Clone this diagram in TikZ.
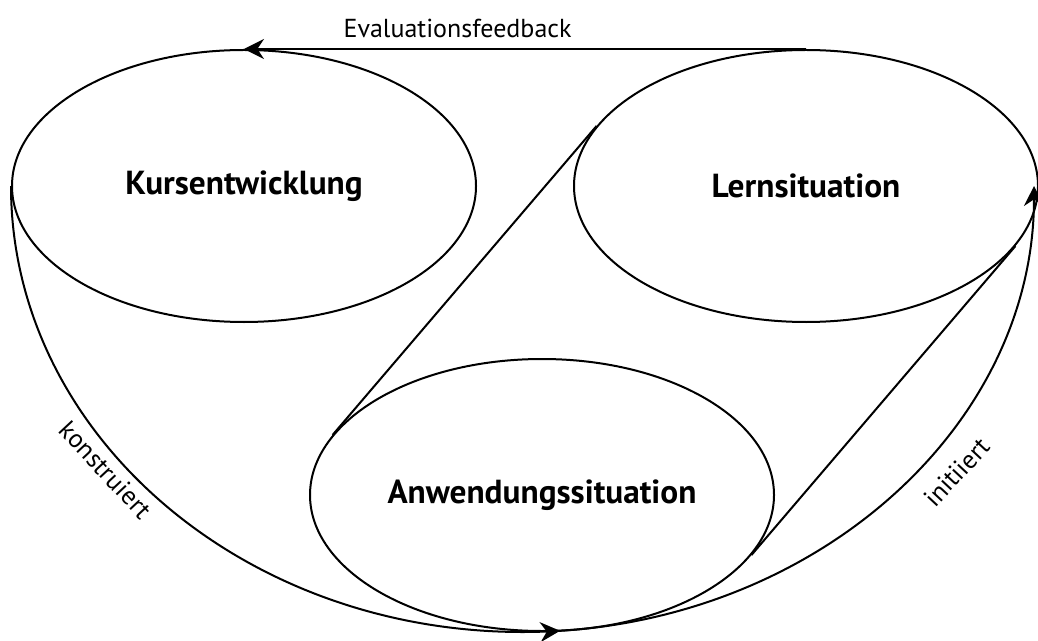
\documentclass[tikz,border=0pt]{standalone}
\usepackage{fontspec}
\setmainfont{PT Sans}
\usetikzlibrary{arrows.meta,positioning,shapes.geometric,decorations.markings}

\begin{document}
\begin{tikzpicture}[x=0.75pt,y=0.75pt,>={Stealth[length=15pt,width=15pt,inset=5pt]},
    line width=1.5pt,node distance=72pt,
    situation node/.style={ellipse,draw,inner sep=0pt,minimum width=348pt,minimum height=204pt,
      font=\fontsize{25}{30}\selectfont\bfseries},
    edge label/.style={font=\fontsize{19.5}{24}\selectfont}]
  \useasboundingbox (0,0) rectangle (1038,640);

  \node[situation node] (kurs) at (244,454) {Kursentwicklung};
  \node[situation node] (lern) [right=of kurs] {Lernsituation};
  \node[situation node] (anw) at (542,145) {Anwendungssituation};

  \draw[->] (lern.north) -- node[edge label,pos=0.62,above=4pt] {Evaluationsfeedback} (kurs.north);
  \draw (lern.164) -- (anw.164)
        (lern.-16) -- (anw.-16);
  \draw[->,postaction={decorate},decoration={markings,mark=at position 0.525 with {\arrow{>}}}]
    (kurs.west) arc[start angle=180,end angle=360,x radius=511.5,y radius=446];
  \node[edge label,rotate=-47] (konst) at (106,170) {konstruiert};
  \node[edge label,rotate=47] (init) at (957,168) {initiiert};
\end{tikzpicture}
\end{document}
